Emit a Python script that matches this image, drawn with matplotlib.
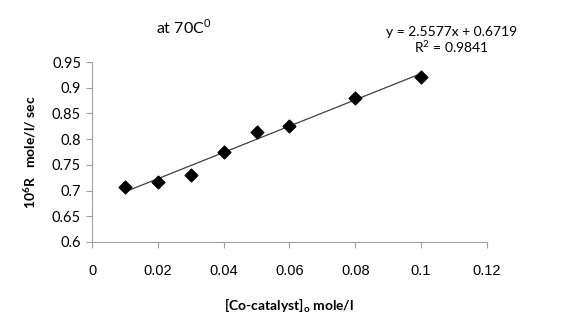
import matplotlib
matplotlib.use("Agg")
import matplotlib.pyplot as plt
import numpy as np

# data
conc = [0.01, 0.02, 0.03, 0.04, 0.05, 0.06, 0.08, 0.10]
rate = [0.707, 0.717, 0.731, 0.775, 0.813, 0.825, 0.880, 0.921]
slope = 2.5577
intercept = 0.6719
r2 = 0.9841
x_ticks = [0, 0.02, 0.04, 0.06, 0.08, 0.1, 0.12]
x_tick_labels = ["0", "0.02", "0.04", "0.06", "0.08", "0.1", "0.12"]
y_ticks = [0.6, 0.65, 0.7, 0.75, 0.8, 0.85, 0.9, 0.95]
y_tick_labels = ["0.6", "0.65", "0.7", "0.75", "0.8", "0.85", "0.9", "0.95"]

plt.rcParams['font.family'] = ['Lato', 'DejaVu Sans']

fig = plt.figure(figsize=(5.76, 3.17), dpi=100)
ax = fig.add_axes([0.16, 0.237, 0.685, 0.567])

# trend line over the data range
fit_x = np.array([conc[0], conc[-1]])
ax.plot(fit_x, slope * fit_x + intercept, color='#404040', lw=0.9, zorder=2)
ax.scatter(conc, rate, marker='D', s=42, color='black', zorder=3)

ax.set_xlim(0, 0.12)
ax.set_ylim(0.6, 0.95)
ax.set_xticks(x_ticks)
ax.set_xticklabels(x_tick_labels, fontsize=10.5, family=['Liberation Sans'])
ax.set_yticks(y_ticks)
ax.set_yticklabels(y_tick_labels, fontsize=10.5)

for side in ['top', 'right']:
    ax.spines[side].set_visible(False)
for side in ['left', 'bottom']:
    ax.spines[side].set_color('#a0a0a0')
ax.tick_params(direction='out', length=4, color='#a0a0a0', pad=4)
ax.tick_params(axis='x', pad=12)

ax.set_xlabel(r'[Co-catalyst]$_\mathregular{o}$ mole/l', fontsize=10, fontweight='bold', labelpad=13)
ax.set_ylabel(r'10$^\mathregular{6}$R   mole/l/ sec', fontsize=10, fontweight='bold', labelpad=10)

fig.text(0.318, 0.915, r'at 70C$^\mathregular{0}$', fontsize=11.5, ha='center', va='center')
fig.text(0.784, 0.899, 'y = 2.5577x + 0.6719', fontsize=10, ha='center', va='center')
fig.text(0.784, 0.852, r'R$^\mathregular{2}$ = ' + str(r2), fontsize=10, ha='center', va='center')

fig.savefig('out.png', dpi=100)
